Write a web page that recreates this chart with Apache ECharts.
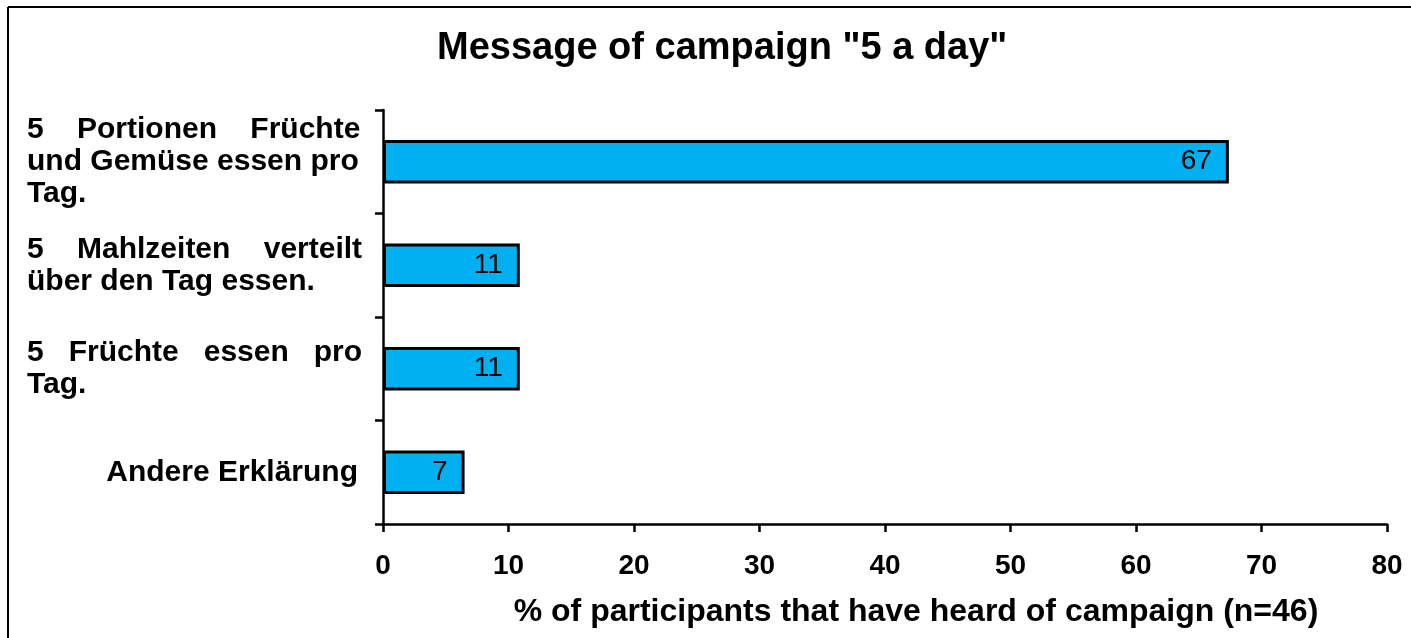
<!DOCTYPE html>
<html>
<head>
<meta charset="utf-8">
<script src="https://cdn.jsdelivr.net/npm/echarts@6/dist/echarts.min.js"></script>
<style>
html,body{margin:0;padding:0;background:#fff;}
#chart{width:1411px;height:638px;}
</style>
</head>
<body>
<div id="chart"></div>
<script>
// ---- data ----
const titleText = 'Message of campaign "5 a day"';
const categories = [
  '5 Portionen Früchte\nund Gemüse essen pro\nTag.',
  '5 Mahlzeiten verteilt\nüber den Tag essen.',
  '5 Früchte essen pro\nTag.',
  'Andere Erklärung'
];
const values = [67.4, 10.9, 10.9, 6.5];
const xTicks = [0, 10, 20, 30, 40, 50, 60, 70, 80];
const xAxisName = '% of participants that have heard of campaign (n=46)';

// ---- helpers ----
const FONT = '"Liberation Sans", Arial, Helvetica, sans-serif';
const LABEL_SIZE = 30;
const BLOCK_W = 331;
const mctx = document.createElement('canvas').getContext('2d');
mctx.font = 'bold ' + LABEL_SIZE + 'px ' + FONT;
function w(t){ return mctx.measureText(t).width; }
function justifyLine(line){
  const words = line.split(' ');
  if (words.length < 2) return line;
  const ww = words.reduce((s, x) => s + w(x), 0);
  const sp = w(' ');
  const gaps = words.length - 1;
  let total = Math.max(gaps, Math.round((BLOCK_W - ww) / sp));
  let out = words[0];
  for (let i = 1; i < words.length; i++) {
    const n = Math.round(total / (gaps - i + 1));
    total -= n;
    out += ' '.repeat(n) + words[i];
  }
  return out;
}
function formatLabel(v){
  const lines = v.split('\n');
  if (lines.length === 1) return '{r|' + v + '}';
  return lines.map((l, i) => i < lines.length - 1 ? justifyLine(l) : l).join('\n');
}

const chart = echarts.init(document.getElementById('chart'), null, {renderer: 'canvas'});
chart.setOption({
  animation: false,
  backgroundColor: '#ffffff',
  title: {
    text: titleText,
    left: 437,
    top: 30,
    padding: 0,
    textStyle: {fontFamily: FONT, fontSize: 38, fontWeight: 'bold', color: '#000'}
  },
  graphic: [
    {type: 'line', shape: {x1: 8, y1: 7, x2: 1411, y2: 7}, style: {stroke: '#000', lineWidth: 2}},
    {type: 'line', shape: {x1: 8, y1: 7, x2: 8, y2: 638}, style: {stroke: '#000', lineWidth: 2}}
  ],
  grid: {left: 383, right: 24, top: 110, bottom: 114, containLabel: false},
  xAxis: {
    type: 'value',
    min: 0, max: 80, interval: 10,
    axisLine: {show: true, lineStyle: {color: '#000', width: 2.5}},
    axisTick: {show: true, length: 8, lineStyle: {color: '#000', width: 2.5}},
    splitLine: {show: false},
    axisLabel: {
      margin: 28,
      fontFamily: FONT, fontSize: 28, fontWeight: 'bold', color: '#000',
      formatter: v => xTicks.includes(v) ? String(v) : ''
    },
    name: xAxisName,
    nameLocation: 'middle',
    nameGap: 72,
    nameTextStyle: {fontFamily: FONT, fontSize: 32, fontWeight: 'bold', color: '#000', padding: [0, 0, 0, 62]}
  },
  yAxis: {
    type: 'category',
    data: categories,
    inverse: true,
    axisLine: {show: true, lineStyle: {color: '#000', width: 2.5}},
    axisTick: {show: true, length: 8, lineStyle: {color: '#000', width: 2.5}},
    axisLabel: {
      align: 'left',
      margin: 356,
      fontFamily: FONT, fontSize: LABEL_SIZE, fontWeight: 'bold', color: '#000',
      lineHeight: 32,
      formatter: formatLabel,
      rich: {
        r: {width: BLOCK_W, align: 'right', fontFamily: FONT, fontSize: LABEL_SIZE, fontWeight: 'bold', color: '#000'}
      }
    }
  },
  series: [{
    type: 'bar',
    data: values,
    barWidth: '42%',
    itemStyle: {color: '#00B0F0', borderColor: '#000', borderWidth: 3},
    label: {
      show: true,
      position: 'insideRight',
      distance: 17,
      fontFamily: FONT, fontSize: 28, color: '#000',
      formatter: p => Math.round(p.value)
    }
  }]
});
</script>
</body>
</html>
